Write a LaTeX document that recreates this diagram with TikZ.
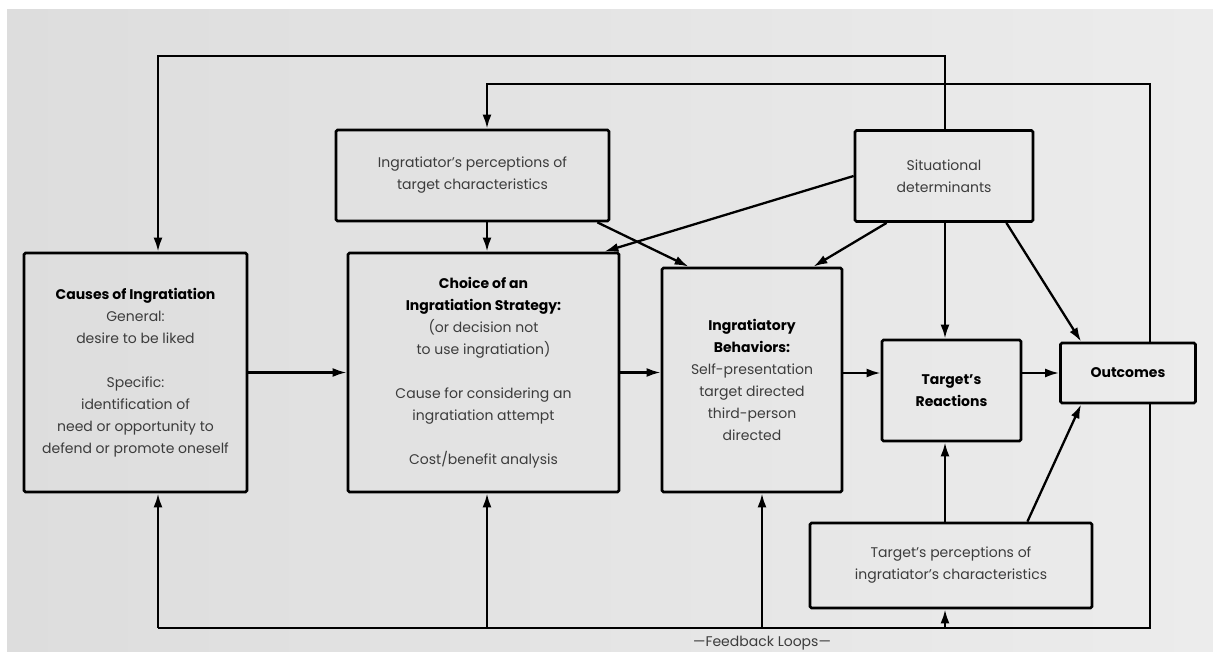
\documentclass[tikz,border=0pt]{standalone}
\usepackage{fontspec}
\setmainfont{Poppins}
\usetikzlibrary{positioning,shapes,arrows.meta,calc}
\definecolor{paperleft}{RGB}{221,221,221}
\definecolor{paperright}{RGB}{236,236,236}
\definecolor{inkgray}{RGB}{60,60,60}
\newcommand{\boxtitle}[1]{\textcolor{black}{\bfseries #1}}

\tikzset{
  box/.style={draw, line width=2.8pt, rounded corners=1.5pt, align=center, inner sep=0pt, text=inkgray},
  arr/.style={line width=2.3pt, -{Latex[length=14pt,width=9pt]}},
  link/.style={line width=2.3pt},
}

\begin{document}
\begin{tikzpicture}[x=1pt,y=-1pt,font=\fontsize{14}{22}\selectfont]
    \useasboundingbox (0,0) rectangle (1213,652);
    \shade[left color=paperleft,right color=paperright] (7,10) rectangle (1213,652);

    % columns and rows of the feedback lines
    \coordinate (top1) at (0,56);
    \coordinate (top2) at (0,84);
    \coordinate (bot) at (0,628);
    \coordinate (xc) at (158,0);
    \coordinate (xi) at (487,0);
    \coordinate (xb) at (762,0);
    \coordinate (xt) at (945,0);
    \coordinate (xo) at (1150,0);

    \node[box, minimum width=223pt, minimum height=239pt] (causes) at (135.5,372.5)
        {\boxtitle{Causes of Ingratiation}\\General:\\desire to be liked\\[22pt]Specific:\\identification of\\need or opportunity to\\defend or promote oneself};
    \node[box, minimum width=271pt, minimum height=239pt] (choice) at (483.5,372.5)
        {\boxtitle{Choice of an}\\\boxtitle{Ingratiation Strategy:}\\(or decision not\\to use ingratiation)\\[22pt]Cause for considering an\\ingratiation attempt\\[22pt]Cost/benefit analysis};
    \node[box, minimum width=273pt, minimum height=91pt] (ingperc) at (472.5,175.5)
        {Ingratiator's perceptions of\\target characteristics};
    \node[box, minimum width=178pt, minimum height=91pt] (situ) at (944,176)
        {Situational\\determinants};
    \node[box, minimum width=180pt, minimum height=224pt] (behav) at (752,380)
        {\boxtitle{Ingratiatory}\\\boxtitle{Behaviors:}\\Self-presentation\\target directed\\third-person\\directed};
    \node[box, minimum width=139pt, minimum height=101pt] (react) at (951.5,390.5)
        {\boxtitle{Target's}\\\boxtitle{Reactions}};
    \node[box, minimum width=135pt, minimum height=60pt] (outc) at (1128,373)
        {\boxtitle{Outcomes}};
    \node[box, minimum width=282pt, minimum height=85pt] (tperc) at (951,565.5)
        {Target's perceptions of\\ingratiator's characteristics};
    \node[text=inkgray] (fbloops) at (762,643) {\textemdash Feedback Loops\textemdash};

    % main chain
    \draw[arr] (causes) -- (choice);
    \draw[arr] (choice.east) -- (choice.east -| behav.west);
    \draw[arr] (behav.east |- outc) -- (react.west |- outc);
    \draw[arr] (react.east |- outc) -- (outc.west);

    % perceptions and situation
    \draw[arr] (ingperc.south -| xi) -- (choice.north -| xi);
    \draw[arr] ($(ingperc.south east)+(-13,0)$) -- ($(behav.north west)+(28,0)$);
    \draw[arr] (situ.west) -- ($(choice.north east)+(-16,0)$);
    \draw[arr] ($(situ.south west)+(33,0)$) -- ($(behav.north east)+(-30,0)$);
    \draw[arr] (situ.south -| xt) -- (react.north -| xt);
    \draw[arr] ($(situ.south east)+(-28,0)$) -- ($(outc.north west)+(22,0)$);
    \draw[arr] (tperc.north -| xt) -- (react.south -| xt);
    \draw[arr] ($(tperc.north east)+(-66,0)$) -- ($(outc.south west)+(22,0)$);

    % feedback loops
    \draw[arr] (situ.north -| xt) |- (top1 -| xc) -- (causes.north -| xc);
    \draw[arr] (outc.north -| xo) |- (top2 -| xi) -- (ingperc.north -| xi);
    \draw[link] (outc.south -| xo) |- (bot -| xc);
    \draw[arr] (bot -| xc) -- (causes.south -| xc);
    \draw[arr] (bot -| xi) -- (choice.south -| xi);
    \draw[arr] (bot -| xb) -- (behav.south -| xb);
    \draw[arr] (bot -| xt) -- (tperc.south -| xt);
\end{tikzpicture}
\end{document}
